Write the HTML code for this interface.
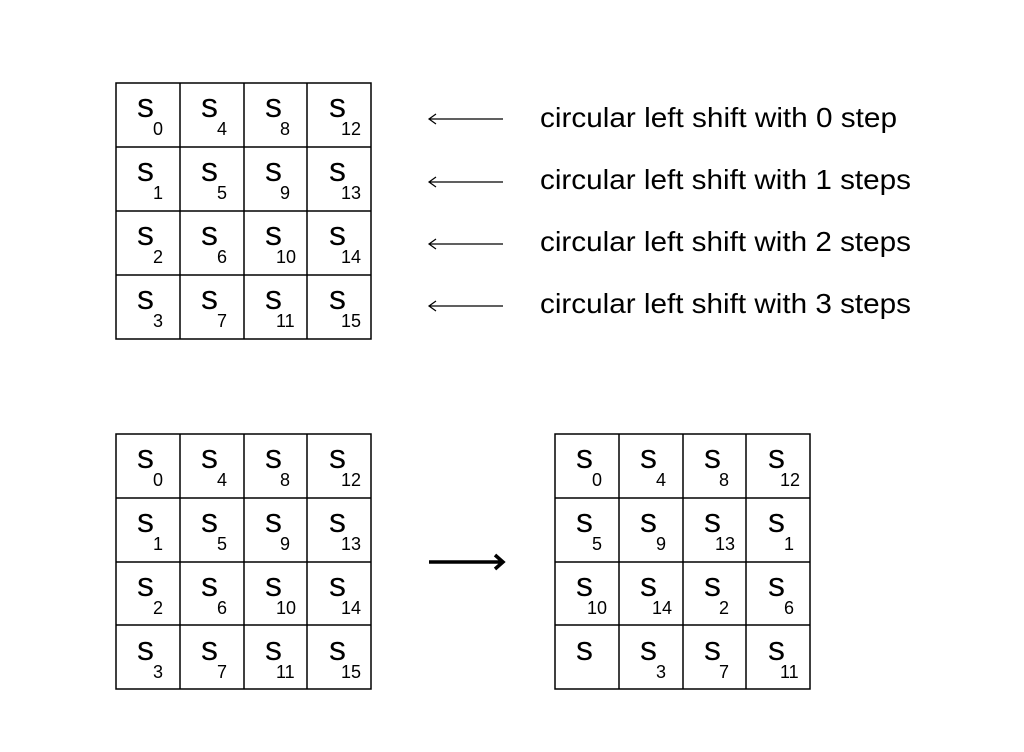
<!DOCTYPE html>
<html><head><style>body{margin:0;background:#fff}svg{display:block}</style></head><body>
<svg width="1024" height="752" viewBox="0 0 1024 752" xmlns="http://www.w3.org/2000/svg" font-family="Liberation Sans, sans-serif" fill="#000">
<rect width="1024" height="752" fill="#fff"/>
<g stroke="#000" stroke-width="1.5" fill="none">
<rect x="116" y="83" width="255" height="256"/>
<path d="M180 83V339M244 83V339M307 83V339M116 147H371M116 211H371M116 275H371"/>
<rect x="116" y="434" width="255" height="255"/>
<path d="M180 434V689M244 434V689M307 434V689M116 498H371M116 562H371M116 625H371"/>
<rect x="555" y="434" width="255" height="255"/>
<path d="M619 434V689M683 434V689M746 434V689M555 498H810M555 562H810M555 625H810"/>
</g>
<g font-size="34">
<text x="137" y="117">s</text><text x="201" y="117">s</text><text x="265" y="117">s</text><text x="329" y="117">s</text>
<text x="137" y="181">s</text><text x="201" y="181">s</text><text x="265" y="181">s</text><text x="329" y="181">s</text>
<text x="137" y="245">s</text><text x="201" y="245">s</text><text x="265" y="245">s</text><text x="329" y="245">s</text>
<text x="137" y="309">s</text><text x="201" y="309">s</text><text x="265" y="309">s</text><text x="329" y="309">s</text>
<text x="137" y="468">s</text><text x="201" y="468">s</text><text x="265" y="468">s</text><text x="329" y="468">s</text>
<text x="137" y="532">s</text><text x="201" y="532">s</text><text x="265" y="532">s</text><text x="329" y="532">s</text>
<text x="137" y="596">s</text><text x="201" y="596">s</text><text x="265" y="596">s</text><text x="329" y="596">s</text>
<text x="137" y="660">s</text><text x="201" y="660">s</text><text x="265" y="660">s</text><text x="329" y="660">s</text>
<text x="576" y="468">s</text><text x="640" y="468">s</text><text x="704" y="468">s</text><text x="768" y="468">s</text>
<text x="576" y="532">s</text><text x="640" y="532">s</text><text x="704" y="532">s</text><text x="768" y="532">s</text>
<text x="576" y="596">s</text><text x="640" y="596">s</text><text x="704" y="596">s</text><text x="768" y="596">s</text>
<text x="576" y="660">s</text><text x="640" y="660">s</text><text x="704" y="660">s</text><text x="768" y="660">s</text>
</g>
<g font-size="18">
<text x="153" y="135">0</text><text x="217" y="135">4</text><text x="280" y="135">8</text><text x="341" y="135">12</text>
<text x="153" y="199">1</text><text x="217" y="199">5</text><text x="280" y="199">9</text><text x="341" y="199">13</text>
<text x="153" y="263">2</text><text x="217" y="263">6</text><text x="276" y="263">10</text><text x="341" y="263">14</text>
<text x="153" y="327">3</text><text x="217" y="327">7</text><text x="276" y="327">11</text><text x="341" y="327">15</text>
<text x="153" y="486">0</text><text x="217" y="486">4</text><text x="280" y="486">8</text><text x="341" y="486">12</text>
<text x="153" y="550">1</text><text x="217" y="550">5</text><text x="280" y="550">9</text><text x="341" y="550">13</text>
<text x="153" y="614">2</text><text x="217" y="614">6</text><text x="276" y="614">10</text><text x="341" y="614">14</text>
<text x="153" y="678">3</text><text x="217" y="678">7</text><text x="276" y="678">11</text><text x="341" y="678">15</text>
<text x="592" y="486">0</text><text x="656" y="486">4</text><text x="719" y="486">8</text><text x="780" y="486">12</text>
<text x="592" y="550">5</text><text x="656" y="550">9</text><text x="715" y="550">13</text><text x="784" y="550">1</text>
<text x="587" y="614">10</text><text x="652" y="614">14</text><text x="719" y="614">2</text><text x="784" y="614">6</text>
<text x="656" y="678">3</text><text x="719" y="678">7</text><text x="780" y="678">11</text>
</g>
<g stroke="#000" stroke-width="1.2" fill="none">
<path d="M429 119H503M436 114L429 119L436 124"/>
<path d="M429 182H503M436 177L429 182L436 187"/>
<path d="M429 244H503M436 239L429 244L436 249"/>
<path d="M429 306H503M436 301L429 306L436 311"/>
</g>
<path d="M429 562H502M495 555L503 562L495 569" stroke="#000" stroke-width="3.5" fill="none"/>
<g font-size="28">
<text x="540" y="127" textLength="357" lengthAdjust="spacingAndGlyphs">circular left shift with 0 step</text>
<text x="540" y="189" textLength="371" lengthAdjust="spacingAndGlyphs">circular left shift with 1 steps</text>
<text x="540" y="251" textLength="371" lengthAdjust="spacingAndGlyphs">circular left shift with 2 steps</text>
<text x="540" y="313" textLength="371" lengthAdjust="spacingAndGlyphs">circular left shift with 3 steps</text>
</g>
</svg>
</body></html>
